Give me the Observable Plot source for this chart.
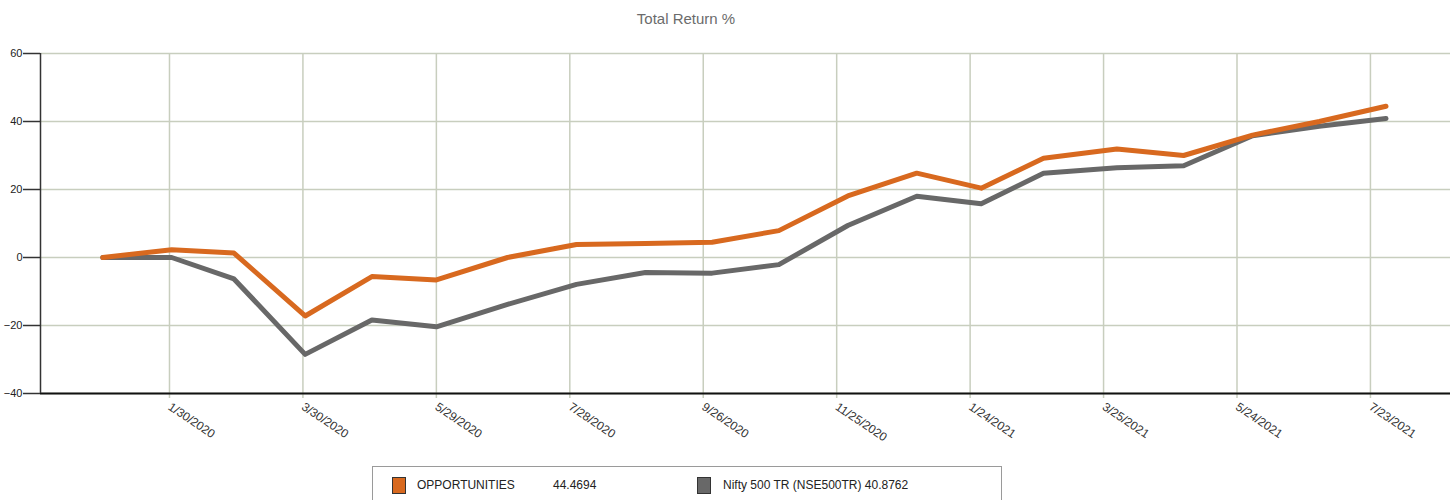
<!DOCTYPE html>
<html>
<head>
<meta charset="utf-8">
<script src="https://cdn.jsdelivr.net/npm/d3@7"></script>
<script src="https://cdn.jsdelivr.net/npm/@observablehq/plot@0.6"></script>
<style>
  html, body { margin: 0; padding: 0; background: #fff; }
  body { width: 1456px; height: 500px; position: relative; overflow: hidden; font-family: "Liberation Sans", Arial, sans-serif; }
  #title { position: absolute; left: 0; top: 10px; width: 1372px; text-align: center; font-size: 15px; color: #6b6b6b; }
  #chart { position: absolute; left: 0; top: 40px; }
  #legend { position: absolute; left: 372px; top: 466px; width: 630px; height: 40px; border: 1px solid #9a9a9a; box-sizing: border-box; font-size: 12px; color: #222; }
  .sw { position: absolute; top: 10px; width: 14px; height: 17px; border: 1px solid #333; box-sizing: border-box; }
  .tx { position: absolute; top: 11px; white-space: pre; line-height: 14px; }
</style>
</head>
<body>
<div id="title"></div>
<div id="chart"></div>
<div id="legend"></div>
<script>
const titleText = "Total Return %";
const dates = ["2019-12-31","2020-01-31","2020-02-28","2020-03-31","2020-04-30","2020-05-29","2020-06-30","2020-07-31","2020-08-31","2020-09-30","2020-10-30","2020-11-30","2020-12-31","2021-01-29","2021-02-26","2021-03-31","2021-04-30","2021-05-31","2021-06-30","2021-07-30"];
const opportunities = [0, 2.3, 1.3, -17.2, -5.6, -6.6, 0, 3.8, 4.1, 4.5, 7.9, 18.1, 24.8, 20.4, 29.2, 31.9, 30.0, 36.0, 40.0, 44.4694];
const nifty = [0, 0, -6.3, -28.5, -18.4, -20.4, -13.8, -7.9, -4.4, -4.6, -2.1, 9.4, 18.0, 15.8, 24.8, 26.4, 27.0, 35.8, 38.6, 40.8762];
const seriesNames = ["OPPORTUNITIES", "Nifty 500 TR (NSE500TR)"];
const seriesLegendValues = ["44.4694", "40.8762"];
const seriesColors = ["#d8691f", "#686868"];
const xTickLabels = ["1/30/2020","3/30/2020","5/29/2020","7/28/2020","9/26/2020","11/25/2020","1/24/2021","3/25/2021","5/24/2021","7/23/2021"];
const yTicks = [-40, -20, 0, 20, 40, 60];
const xDomainLabels = ["12/3/2019", "8/28/2021"];

const parseMDY = s => { const [m, d, y] = s.split("/").map(Number); return new Date(Date.UTC(y, m - 1, d)); };
const fmtMDY = d => `${d.getUTCMonth() + 1}/${d.getUTCDate()}/${d.getUTCFullYear()}`;
const xTicks = xTickLabels.map(parseMDY);
const xDomain = xDomainLabels.map(parseMDY);

const rows = [];
dates.forEach((d, i) => {
  rows.push({date: new Date(d + "T00:00:00Z"), value: nifty[i], series: seriesNames[1]});
});
dates.forEach((d, i) => {
  rows.push({date: new Date(d + "T00:00:00Z"), value: opportunities[i], series: seriesNames[0]});
});

document.getElementById("title").textContent = titleText;

const gridColor = "#c8cebe";
const font = "Liberation Sans, Arial, sans-serif";

const plot = Plot.plot({
  width: 1456,
  height: 420,
  marginTop: 13,
  marginBottom: 67,
  marginLeft: 40,
  marginRight: 6,
  style: {fontFamily: font, fontSize: "11px", color: "#222", background: "#fff"},
  x: {type: "utc", domain: xDomain},
  y: {domain: [-40, 60]},
  color: {domain: seriesNames, range: seriesColors},
  marks: [
    Plot.ruleY(yTicks, {stroke: gridColor, strokeWidth: 1.5}),
    Plot.ruleX(xTicks, {x: d => d, y1: -40, y2: 60, stroke: gridColor, strokeWidth: 1.5}),
    Plot.axisX({ticks: xTicks, tickFormat: fmtMDY, tickSize: 5, stroke: gridColor, strokeWidth: 1.5, tickPadding: 7, tickRotate: 34, textAnchor: "start", fill: "#333", fontSize: 12, label: null}),
    Plot.axisY({ticks: yTicks, tickSize: 17, tickPadding: 1, stroke: "#333", strokeWidth: 1.5, fill: "#222", fontSize: 11, label: null}),
    Plot.ruleY([-40], {stroke: "#111", strokeWidth: 2}),
    Plot.ruleX([xDomain[0]], {y1: -40, y2: 60, stroke: "#333", strokeWidth: 1.5}),
    Plot.line(rows, {x: "date", y: "value", z: "series", stroke: "series", strokeWidth: 5, strokeLinejoin: "round", strokeLinecap: "round"})
  ]
});
document.getElementById("chart").appendChild(plot);

const legend = document.getElementById("legend");
const swatchLefts = [19, 324];
const textLefts = [44, 350];
const valueLefts = [180, null];
seriesNames.forEach((name, i) => {
  const sw = document.createElement("div");
  sw.className = "sw";
  sw.style.left = swatchLefts[i] + "px";
  sw.style.background = seriesColors[i];
  legend.appendChild(sw);
  const tx = document.createElement("span");
  tx.className = "tx";
  tx.style.left = textLefts[i] + "px";
  tx.textContent = valueLefts[i] == null ? name + " " + seriesLegendValues[i] : name;
  legend.appendChild(tx);
  if (valueLefts[i] != null) {
    const v = document.createElement("span");
    v.className = "tx";
    v.style.left = valueLefts[i] + "px";
    v.textContent = seriesLegendValues[i];
    legend.appendChild(v);
  }
});
</script>
</body>
</html>
